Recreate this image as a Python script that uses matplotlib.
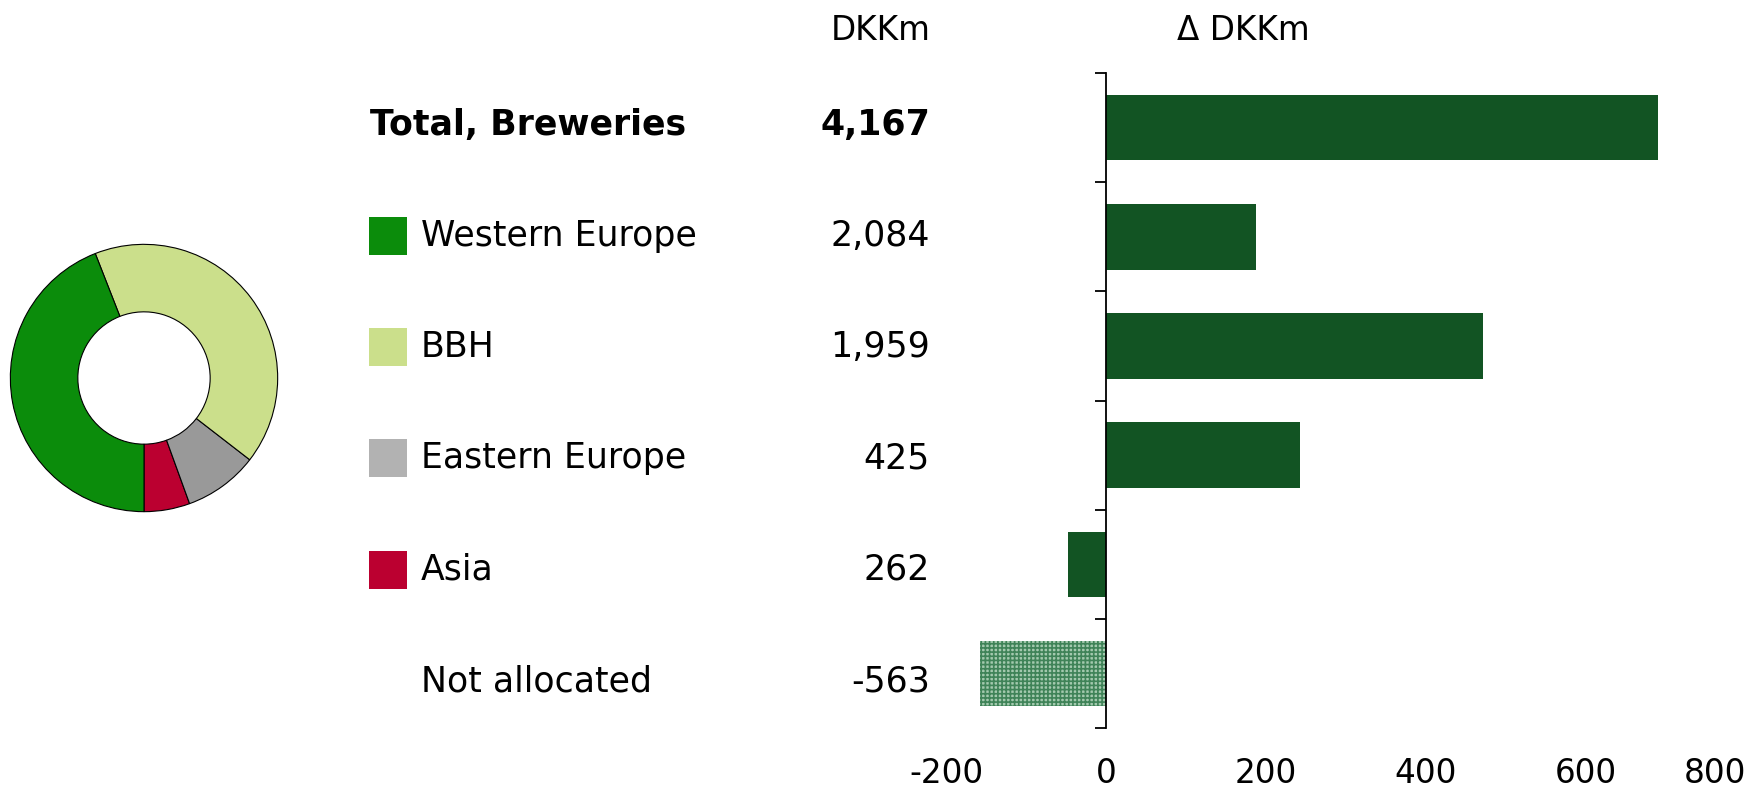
import matplotlib
matplotlib.use("Agg")
from matplotlib import pyplot as plt
from matplotlib.patches import Rectangle

plt.rcParams['font.family'] = ['DejaVu Sans']
plt.rcParams['axes.unicode_minus'] = False
plt.rcParams['hatch.linewidth'] = 1.2

# rows, top to bottom
rows = ["Total, Breweries", "Western Europe", "BBH", "Eastern Europe", "Asia", "Not allocated"]
values = ["4,167", "2,084", "1,959", "425", "262", "-563"]
change = [690, 188, 471, 243, -48, -158]

# donut shares (counter-clockwise from the bottom)
share_names = ["Asia", "Eastern Europe", "BBH", "Western Europe"]
share_values = [262, 425, 1959, 2084]

pie_colors = {"Western Europe": "#0b8c0b", "BBH": "#cbdf8b",
              "Eastern Europe": "#999999", "Asia": "#bb0030"}
key_colors = {"Western Europe": "#0b8c0b", "BBH": "#cbdf8b",
              "Eastern Europe": "#b2b2b2", "Asia": "#bb0030"}

W, H = 1760, 792
fig = plt.figure(figsize=(W / 100, H / 100), dpi=100)

# change bars
ax = fig.add_axes([946 / W, 1 - 728 / H, 800 / W, 655 / H])
for i, v in enumerate(change):
    if rows[i] == "Not allocated":
        ax.barh(i, v, height=0.6, color="#a3c9ae", edgecolor="#3f8358",
                hatch="++++", linewidth=0)
    else:
        ax.barh(i, v, height=0.6, color="#125423", linewidth=0)

ax.set_xlim(-200, 800)
ax.set_ylim(len(rows) - 0.5, -0.5)
for s in ["top", "right", "bottom"]:
    ax.spines[s].set_visible(False)
ax.spines["left"].set_position(("data", 0))
ax.spines["left"].set_linewidth(1.3)
ax.set_yticks([i - 0.5 for i in range(len(rows) + 1)])
ax.set_yticklabels([])
ax.tick_params(axis="y", length=8, width=1.3, direction="out")
ax.set_xticks([-200, 0, 200, 400, 600, 800])
ax.tick_params(axis="x", length=0, pad=21, labelsize=23.5)
ax.get_xticklabels()[-1].set_horizontalalignment("right")

# text columns
for i, (name, val) in enumerate(zip(rows, values)):
    yc = 1 - (124.5 + 111.3 * i) / H
    bold = "bold" if i == 0 else "normal"
    x_lab = 370 / W if i == 0 else 421 / W
    fig.text(x_lab, yc, name, fontsize=25, fontweight=bold, va="center", ha="left")
    fig.text(930 / W, yc, val, fontsize=25, fontweight=bold, va="center", ha="right")
    if name in key_colors:
        fig.add_artist(Rectangle((369 / W, yc - 19 / H), 38 / W, 38 / H,
                                 transform=fig.transFigure,
                                 color=key_colors[name], lw=0))

fig.text(931 / W, 1 - 30 / H, "DKKm", fontsize=23.5, ha="right", va="center")
fig.text(1243 / W, 1 - 30 / H, "Δ DKKm", fontsize=23.5, ha="center", va="center")

# donut
pax = fig.add_axes([9 / W, 1 - 513 / H, 270 / W, 270 / H])
pax.pie(share_values, colors=[pie_colors[n] for n in share_names],
        startangle=-90, counterclock=True, radius=1,
        wedgeprops=dict(width=0.505, edgecolor="black", linewidth=0.8))
pax.set_xlim(-1.01, 1.01)
pax.set_ylim(-1.01, 1.01)
pax.set_aspect("equal")
pax.axis("off")

fig.savefig("out.png", dpi=100)
